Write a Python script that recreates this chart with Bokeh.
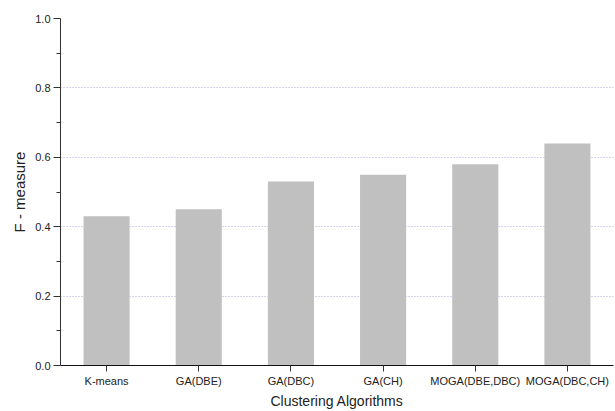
from bokeh.plotting import figure
from bokeh.models import FixedTicker, FactorRange, Range1d, CustomJSTickFormatter
from bokeh.embed import file_html
from bokeh.resources import INLINE

# F-measure of each clustering approach
algorithms = ["K-means", "GA(DBE)", "GA(DBC)", "GA(CH)", "MOGA(DBE,DBC)", "MOGA(DBC,CH)"]
f_measure = [0.43, 0.45, 0.53, 0.55, 0.58, 0.64]

y_ticks = [0.0, 0.2, 0.4, 0.6, 0.8, 1.0]
y_minor_ticks = [0.1, 0.3, 0.5, 0.7, 0.9]
grid_ticks = [0.2, 0.4, 0.6, 0.8]

FONT = "Liberation Sans"
INK = "#222222"

p = figure(
    width=615, height=411,
    x_range=FactorRange(factors=algorithms, range_padding=0),
    y_range=Range1d(0, 1.0),
    output_backend="svg", toolbar_location=None,
    min_border_left=60, min_border_right=2, min_border_top=18, min_border_bottom=45,
)
p.outline_line_color = None
p.background_fill_color = "white"
p.border_fill_color = "white"

p.vbar(x=algorithms, top=f_measure, width=0.5, fill_color="#c0c0c0", line_color=None)

# dotted horizontal guide lines
p.xgrid.grid_line_color = None
p.ygrid.ticker = FixedTicker(ticks=grid_ticks)
p.ygrid.grid_line_color = "#a9a9d6"
p.ygrid.grid_line_dash = "1 2"
p.ygrid.grid_line_width = 1

# y axis
ya = p.yaxis[0]
ya.ticker = FixedTicker(ticks=y_ticks, minor_ticks=y_minor_ticks)
ya.formatter = CustomJSTickFormatter(code="return tick.toFixed(1);")
ya.axis_label = "F - measure"
ya.axis_label_text_font = FONT
ya.axis_label_text_font_size = "15px"
ya.axis_label_text_font_style = "normal"
ya.axis_label_text_color = INK
ya.axis_label_standoff = 4
ya.major_label_text_font = FONT
ya.major_label_text_font_size = "11px"
ya.major_label_text_color = INK
ya.major_label_standoff = 3
ya.major_tick_in = 0
ya.major_tick_out = 7
ya.minor_tick_in = 0
ya.minor_tick_out = 4
ya.axis_line_color = "#333333"
ya.major_tick_line_color = "#333333"
ya.minor_tick_line_color = "#333333"

# x axis
xa = p.xaxis[0]
xa.axis_label = "Clustering Algorithms"
xa.axis_label_text_font = FONT
xa.axis_label_text_font_size = "14px"
xa.axis_label_text_font_style = "normal"
xa.axis_label_text_color = INK
xa.axis_label_standoff = 3
xa.major_label_text_font = FONT
xa.major_label_text_font_size = "11px"
xa.major_label_text_color = INK
xa.major_label_standoff = 3
xa.major_tick_in = 0
xa.major_tick_out = 6
xa.axis_line_color = "#111111"
xa.major_tick_line_color = "#333333"

with open("out.html", "w") as f:
    f.write(file_html(p, INLINE))
